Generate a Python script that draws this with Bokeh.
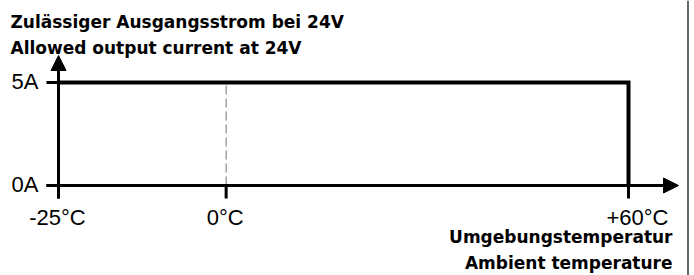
from bokeh.plotting import figure
from bokeh.models import Range1d, Arrow, NormalHead, Label, Span
from bokeh.core.properties import value
from bokeh.embed import file_html
from bokeh.resources import INLINE

# ---- data ----
temp_ticks = [-25, 0, 60]
temp_labels = ["-25°C", "0°C", "+60°C"]
current_ticks = [0, 5]
current_labels = ["0A", "5A"]
curve_temp = [-25, 60, 60]
curve_current = [5, 5, 0]
title_lines = ["Zulässiger Ausgangsstrom bei 24V", "Allowed output current at 24V"]
xlabel_lines = ["Umgebungstemperatur", "Ambient temperature"]

# ---- layout (pixel anchors inside the figure) ----
W, H = 694, 275
X_A_PX, X_B_PX = 58, 628      # screen x of -25 and 60
Y_0_PX, Y_5_PX = 185, 82      # screen y (from top) of 0 and 5
ppx = (X_B_PX - X_A_PX) / (temp_ticks[-1] - temp_ticks[0])
ppy = (Y_0_PX - Y_5_PX) / (current_ticks[-1] - current_ticks[0])
x_start = temp_ticks[0] - X_A_PX / ppx
x_end = x_start + W / ppx
y_top = current_ticks[-1] + Y_5_PX / ppy
y_bottom = y_top - H / ppy

p = figure(width=W, height=H, x_axis_type=None, y_axis_type=None,
           x_range=Range1d(x_start, x_end), y_range=Range1d(y_bottom, y_top),
           min_border=0, min_border_left=0, min_border_right=0,
           min_border_top=0, min_border_bottom=0,
           outline_line_color=None, toolbar_location=None,
           output_backend="svg", background_fill_color="white",
           border_fill_color="white")

T0, T1 = temp_ticks[0], temp_ticks[-1]
I0, I1 = current_ticks[0], current_ticks[-1]

# dashed guide at 0 °C
p.segment(x0=[temp_ticks[1]], y0=[I0], x1=[temp_ticks[1]], y1=[I1],
          line_color="#8a8a8a", line_width=1.2, line_dash="9 4")

# axes with arrows
tick_len = 13
p.add_layout(Arrow(x_start=T0, y_start=I0 - tick_len / ppy, x_end=T0,
                   y_end=y_top - 55 / ppy, line_width=3, line_color="black",
                   end=NormalHead(size=15, fill_color="black", line_color="black",
                                  line_width=1)))
p.add_layout(Arrow(x_start=T0 - 12 / ppx, y_start=I0, x_end=x_start + 678 / ppx,
                   y_end=I0, line_width=3, line_color="black",
                   end=NormalHead(size=15, fill_color="black", line_color="black",
                                  line_width=1)))

# y ticks
p.segment(x0=[T0 - 12 / ppx] * len(current_ticks), y0=current_ticks,
          x1=[T0] * len(current_ticks), y1=current_ticks,
          line_color="black", line_width=3)
# x ticks
p.segment(x0=temp_ticks, y0=[I0] * len(temp_ticks), x1=temp_ticks,
          y1=[I0 - tick_len / ppy] * len(temp_ticks),
          line_color="black", line_width=3)

# derating curve
p.line(curve_temp, curve_current, line_color="black", line_width=4,
       line_join="miter")

# tick labels
tick_font = value("Liberation Sans")
p.text(x=[T0] * len(current_ticks), y=current_ticks, text=current_labels,
       text_font=tick_font, text_font_size="22px", text_color="black",
       text_align="right", text_baseline="middle", x_offset=-20, y_offset=-1)
p.text(x=temp_ticks[:2], y=[I0] * 2, text=temp_labels[:2],
       text_font=tick_font, text_font_size="22px", text_color="black",
       text_align="center", text_baseline="alphabetic", x_offset=-1, y_offset=32)
p.text(x=temp_ticks[2:], y=[I0], text=temp_labels[2:],
       text_font=tick_font, text_font_size="22px", text_color="black",
       text_align="center", text_baseline="alphabetic", x_offset=9, y_offset=32)

# titles
bold_font = "DejaVu Sans"
for i, t in enumerate(title_lines):
    p.add_layout(Label(x=10, y=H - 21 - 26 * i, x_units="screen", y_units="screen",
                       text=t, text_font=bold_font, text_font_style="bold",
                       text_font_size="17px", text_color="black",
                       text_baseline="alphabetic", text_align="left"))
for i, t in enumerate(xlabel_lines):
    p.add_layout(Label(x=672, y=39 - 26 * i, x_units="screen", y_units="screen",
                       text=t, text_font=bold_font, text_font_style="bold",
                       text_font_size="17px", text_color="black",
                       text_baseline="alphabetic", text_align="right"))

# right frame edge
p.add_layout(Span(location=x_start + 687.5 / ppx, dimension="height",
                  line_color="#333333", line_width=1.5))

open("out.html", "w").write(file_html(p, INLINE))
